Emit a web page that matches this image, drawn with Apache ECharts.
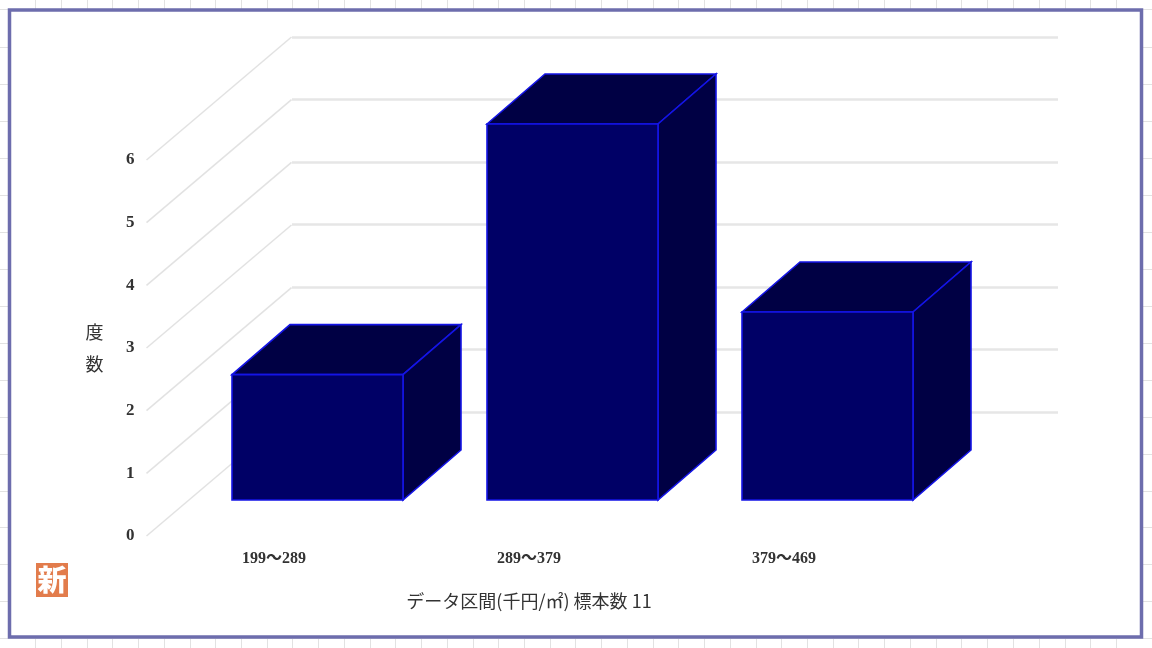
<!DOCTYPE html>
<html><head><meta charset="utf-8">
<style>html,body{margin:0;padding:0;background:#fff}#c{width:1152px;height:648px}</style>
<script src="https://cdn.jsdelivr.net/npm/echarts@6/dist/echarts.min.js"></script>
</head><body><div id="c"></div>
<script>
const categories = ['199\uFF5E289', '289\uFF5E379', '379\uFF5E469'];
const counts = [2, 6, 3];
const tickValues = [0, 1, 2, 3, 4, 5, 6];
const xTitle = 'データ区間(千円/㎡) 標本数 11';
const yTitle = '度\n数';
const badgeText = '新';
const sheetColsX = [35,61,87,112,138,164,190,215,241,267,292,318,344,370,395,421,447,473,498,524,550,575,601,627,653,678,704,730,756,781,807,833,858,884,910,936,961,987,1013,1039,1065,1090,1116];
const sheetRowsY = [9,47,84,121,158,195,232,269,306,343,380,417,454,491,527,564,601,638];

const serif = '"Liberation Serif","Noto Sans CJK JP",serif';
const jp = '"Noto Sans CJK JP",sans-serif';
const wallDepth = [145, -123];
const barDepth = [58, -50];

const sheet = [];
sheetColsX.forEach(x => sheet.push({type:'line',silent:true,z:-20,shape:{x1:x+.5,y1:0,x2:x+.5,y2:648},style:{stroke:'#e2e2e2',lineWidth:1}}));
sheetRowsY.forEach(y => sheet.push({type:'line',silent:true,z:-20,shape:{x1:0,y1:y+.5,x2:1152,y2:y+.5},style:{stroke:'#e2e2e2',lineWidth:1}}));

const chart = echarts.init(document.getElementById('c'), null, {renderer:'canvas'});
chart.setOption({
  animation:false,
  backgroundColor:'#fff',
  graphic:[...sheet,
    {type:'rect',silent:true,z:-10,shape:{x:9.5,y:10,width:1132,height:627},style:{fill:'#fff',stroke:'#6d6dad',lineWidth:3.5}},
    {type:'rect',silent:true,z:5,shape:{x:36,y:563,width:32,height:34},style:{fill:'#e27c4c'}},
    {type:'text',silent:true,z:6,x:52,y:580,style:{text:badgeText,fill:'#fff',font:'900 29px '+jp,align:'center',verticalAlign:'middle'}}
  ],
  grid:[
    {left:292,top:37,width:766,height:375},
    {left:146.5,top:160,width:765,height:376},
    {left:190,top:124,width:765,height:376}
  ],
  xAxis:[
    {gridIndex:0,type:'category',data:categories,show:false},
    {gridIndex:1,type:'category',data:categories,
      axisLine:{show:false},axisTick:{show:false},splitLine:{show:false},
      axisLabel:{margin:15,color:'#333',font:'bold 16px '+serif,fontFamily:serif,fontSize:16,fontWeight:'bold'},
      name:xTitle,nameLocation:'middle',nameGap:56,nameTextStyle:{color:'#333',fontFamily:jp,fontSize:18}},
    {gridIndex:2,type:'category',data:categories,show:false}
  ],
  yAxis:[
    {gridIndex:0,type:'value',min:0,max:6,interval:1,axisLine:{show:false},axisTick:{show:false},axisLabel:{show:false},
      splitLine:{show:true,lineStyle:{color:'#e6e6e6',width:2.5}}},
    {gridIndex:1,type:'value',min:0,max:6,interval:1,axisLine:{show:false},axisTick:{show:false},splitLine:{show:false},
      axisLabel:{margin:12,color:'#333',fontFamily:serif,fontSize:17,fontWeight:'bold'},
      name:yTitle,nameLocation:'middle',nameGap:43,nameRotate:0,nameTextStyle:{color:'#333',fontFamily:jp,fontSize:18,lineHeight:32}},
    {gridIndex:2,type:'value',min:0,max:6,interval:1,show:false}
  ],
  series:[
    {type:'custom',xAxisIndex:1,yAxisIndex:1,z:1,silent:true,clip:false,
      data:tickValues.map(v=>[0,v]),
      renderItem(params,api){
        const p = api.coord([0,api.value(1)]);
        const x0 = params.coordSys.x;
        return {type:'line',shape:{x1:x0,y1:p[1],x2:x0+wallDepth[0],y2:p[1]+wallDepth[1]},
          style:{stroke:'#e2e2e2',lineWidth:1.5}};
      }},
    {type:'custom',xAxisIndex:2,yAxisIndex:2,z:3,silent:true,clip:false,
      data:counts.map((v,i)=>[i,v]),
      renderItem(params,api){
        const top = api.coord([api.value(0),api.value(1)]);
        const base = api.coord([api.value(0),0]);
        const w = 171, xl = top[0]-w/2, xr = top[0]+w/2;
        const dx = barDepth[0], dy = barDepth[1];
        const edge = {stroke:'#1414e6',lineWidth:1.6,lineJoin:'miter'};
        return {type:'group',children:[
          {type:'polygon',shape:{points:[[xl,top[1]],[xl+dx,top[1]+dy],[xr+dx,top[1]+dy],[xr,top[1]]]},style:{fill:'#000044',...edge}},
          {type:'polygon',shape:{points:[[xr,top[1]],[xr+dx,top[1]+dy],[xr+dx,base[1]+dy],[xr,base[1]]]},style:{fill:'#000044',...edge}},
          {type:'rect',shape:{x:xl,y:top[1],width:w,height:base[1]-top[1]},style:{fill:'#000066',...edge}}
        ]};
      }}
  ]
});
</script></body></html>
